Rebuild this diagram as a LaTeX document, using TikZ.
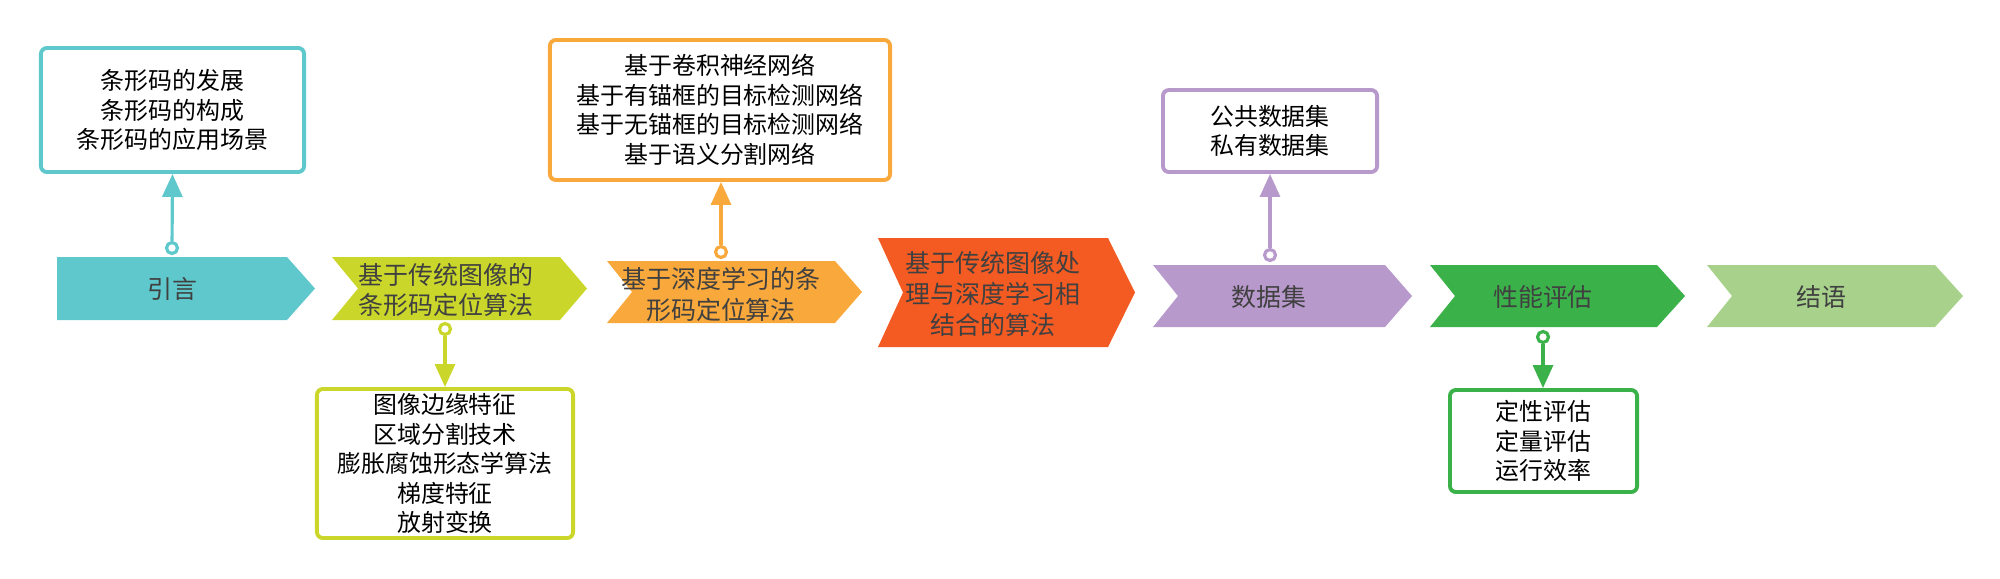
\documentclass[tikz,border=0pt]{standalone}
\usepackage{fontspec}
\newfontfamily\cjk{Noto Sans CJK SC}
\usetikzlibrary{arrows.meta}
\definecolor{cteal}{HTML}{5FC8CC}
\definecolor{cyel}{HTML}{CAD72A}
\definecolor{corange}{HTML}{F9A83B}
\definecolor{cred}{HTML}{F45B22}
\definecolor{cpurple}{HTML}{B899CB}
\definecolor{cgreen}{HTML}{3BB14A}
\definecolor{clgreen}{HTML}{A8D28C}
\definecolor{txtgray}{HTML}{404040}
\begin{document}
\begin{tikzpicture}[x=0.01cm,y=-0.01cm,
  boxtxt/.style={font=\cjk\fontsize{6.8pt}{8.4pt}\selectfont, align=center, text=black},
  infobox/.style={draw=#1, line width=1.1pt, rounded corners=0.06cm, fill=white, inner sep=0pt, boxtxt},
  chevtxt/.style={font=\cjk\fontsize{7.1pt}{8.8pt}\selectfont, align=center, text=txtgray, inner sep=0pt},
  ring/.style={circle, draw=#1, fill=white, line width=0.9pt, minimum size=0.11cm, inner sep=0pt},
  conn/.style={draw=#1, line width=0.9pt, -{Triangle[width=0.2cm,length=0.23cm]}}
]
\useasboundingbox (0,0) rectangle (2000,578);

% chevrons
\fill[cteal] (57,257) -- (287,257) -- (315,288.5) -- (287,320) -- (57,320) -- cycle;
\fill[cyel] (332,257) -- (560,257) -- (587,288.5) -- (560,320) -- (332,320) -- (358,288.5) -- cycle;
\fill[corange] (607,261) -- (835,261) -- (862,292) -- (835,323) -- (607,323) -- (632,292) -- cycle;
\fill[cred] (878,238) -- (1108,238) -- (1135,292.5) -- (1108,347) -- (878,347) -- (903,292.5) -- cycle;
\fill[cpurple] (1153,265) -- (1385,265) -- (1412,296) -- (1385,327) -- (1153,327) -- (1178,296) -- cycle;
\fill[cgreen] (1430,265) -- (1657,265) -- (1685,296) -- (1657,327) -- (1430,327) -- (1455,296) -- cycle;
\fill[clgreen] (1707,265) -- (1935,265) -- (1963,296) -- (1935,327) -- (1707,327) -- (1732,296) -- cycle;

\node[chevtxt] (t1) at (172,289) {引言};
\node[chevtxt] (t2) at (446,290) {基于传统图像的\\条形码定位算法};
\node[chevtxt] (t3) at (721,294) {基于深度学习的条\\形码定位算法};
\node[chevtxt] (t4) at (993,294) {基于传统图像处\\理与深度学习相\\结合的算法};
\node[chevtxt] (t5) at (1269,297) {数据集};
\node[chevtxt] (t6) at (1543,297) {性能评估};
\node[chevtxt] (t7) at (1821,297) {结语};

% info boxes
\node[infobox=cteal, minimum width=2.63cm, minimum height=1.24cm] (b1) at (172.5,110) {条形码的发展\\条形码的构成\\条形码的应用场景};
\node[infobox=corange, minimum width=3.40cm, minimum height=1.40cm] (b3) at (720,110) {基于卷积神经网络\\基于有锚框的目标检测网络\\基于无锚框的目标检测网络\\基于语义分割网络};
\node[infobox=cpurple, minimum width=2.14cm, minimum height=0.82cm] (b5) at (1270,131) {公共数据集\\私有数据集};
\node[infobox=cyel, minimum width=2.56cm, minimum height=1.49cm] (b2) at (445,463.5) {图像边缘特征\\区域分割技术\\膨胀腐蚀形态学算法\\梯度特征\\放射变换};
\node[infobox=cgreen, minimum width=1.87cm, minimum height=1.02cm] (b6) at (1543.5,441) {定性评估\\定量评估\\运行效率};

% connectors
\node[ring=cteal] (r1) at (172,248) {};
\node[ring=corange] (r3) at (721,252) {};
\node[ring=cpurple] (r5) at (1270,255) {};
\node[ring=cyel] (r2) at (445,329) {};
\node[ring=cgreen] (r6) at (1543,337) {};

\draw[conn=cteal] (r1) -- (b1.south);
\draw[conn=corange] (r3) -- (b3.south -| r3);
\draw[conn=cpurple] (r5) -- (b5.south -| r5);
\draw[conn=cyel] (r2) -- (b2.north -| r2);
\draw[conn=cgreen] (r6) -- (b6.north -| r6);
\end{tikzpicture}
\end{document}
